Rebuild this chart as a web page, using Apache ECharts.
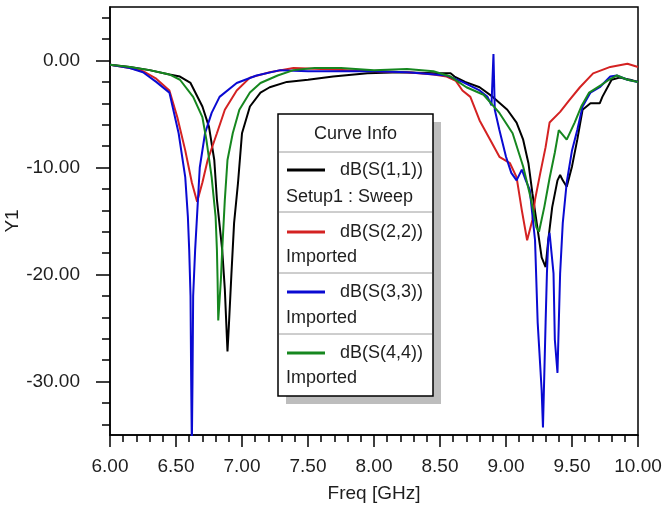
<!DOCTYPE html>
<html>
<head>
<meta charset="utf-8">
<script src="https://cdn.jsdelivr.net/npm/echarts@6/dist/echarts.min.js"></script>
<style>
html,body{margin:0;padding:0;background:#fff;}
#chart{width:662px;height:513px;}
</style>
</head>
<body>
<div id="chart"></div>
<script>
// ---- data ----
const xTickLabelsInfo = ['6.00','6.50','7.00','7.50','8.00','8.50','9.00','9.50','10.00'];
const yMajorLabels = ['0.00','-10.00','-20.00','-30.00'];

const seriesNames = ['dB(S(1,1))','dB(S(2,2))','dB(S(3,3))','dB(S(4,4))'];
const seriesSub = ['Setup1 : Sweep','Imported','Imported','Imported'];
const seriesColors = ['#000000','#d42222','#0a0ad2','#16871f'];

const s11Freq = [6.00,6.15,6.30,6.45,6.53,6.61,6.70,6.75,6.79,6.81,6.85,6.87,6.89,6.90,6.92,6.94,6.97,7.00,7.06,7.14,7.21,7.34,7.50,7.69,7.95,8.20,8.45,8.58,8.61,8.69,8.80,8.90,9.01,9.08,9.13,9.17,9.20,9.24,9.27,9.30,9.32,9.35,9.39,9.41,9.43,9.46,9.50,9.54,9.58,9.64,9.71,9.73,9.80,9.86,9.94,10.00];
const s11Db   = [-0.4,-0.6,-0.9,-1.3,-1.5,-2.1,-4.3,-6.2,-9.3,-13.0,-17.7,-21.4,-27.2,-24.9,-19.9,-15.2,-11.4,-6.8,-4.3,-3.0,-2.5,-2.0,-1.8,-1.5,-1.2,-1.1,-1.2,-1.2,-1.5,-2.0,-2.5,-3.4,-4.6,-5.8,-7.4,-9.6,-12.4,-15.8,-18.4,-19.3,-16.8,-13.7,-11.2,-10.7,-11.2,-11.8,-9.9,-7.4,-4.6,-4.0,-4.0,-3.4,-1.8,-1.6,-1.8,-2.0];

const s22Freq = [6.00,6.15,6.25,6.35,6.45,6.51,6.57,6.62,6.66,6.70,6.74,6.81,6.87,6.96,7.06,7.21,7.39,7.60,7.80,8.00,8.25,8.45,8.55,8.62,8.67,8.73,8.80,8.88,8.95,9.03,9.08,9.12,9.16,9.20,9.22,9.26,9.30,9.33,9.41,9.48,9.56,9.66,9.79,9.92,10.00];
const s22Db   = [-0.4,-0.7,-1.0,-1.7,-2.8,-5.3,-8.4,-11.4,-13.2,-11.4,-9.3,-6.8,-4.6,-2.8,-1.6,-1.1,-0.7,-0.8,-0.9,-1.0,-1.1,-1.3,-1.5,-1.9,-2.8,-3.4,-5.6,-7.4,-9.0,-9.6,-10.9,-14.0,-16.8,-14.9,-13.0,-10.5,-8.1,-5.8,-4.8,-3.7,-2.5,-1.2,-0.6,-0.3,-0.6];

const s33Freq = [6.00,6.15,6.25,6.35,6.45,6.52,6.57,6.59,6.60,6.61,6.615,6.62,6.625,6.63,6.645,6.68,6.72,6.77,6.83,6.96,7.11,7.29,7.50,7.75,8.00,8.25,8.35,8.55,8.67,8.80,8.86,8.89,8.905,8.915,8.95,9.00,9.04,9.08,9.12,9.15,9.18,9.22,9.24,9.27,9.28,9.30,9.31,9.32,9.33,9.36,9.37,9.39,9.40,9.41,9.43,9.46,9.50,9.54,9.58,9.64,9.71,9.79,9.84,9.92,10.00];
const s33Db   = [-0.4,-0.7,-1.1,-2.0,-3.0,-6.8,-10.9,-14.6,-17.7,-22.0,-30.0,-36.0,-30.0,-22.0,-17.7,-10.0,-6.8,-4.9,-3.4,-2.1,-1.4,-0.9,-1.0,-1.0,-1.0,-1.1,-1.2,-1.4,-2.0,-2.8,-3.4,-4.2,0.6,-4.6,-6.5,-9.0,-10.5,-11.2,-10.2,-11.2,-12.1,-16.8,-24.5,-30.8,-34.3,-24.5,-19.9,-16.8,-16.1,-19.9,-26.1,-29.2,-24.5,-19.9,-15.2,-11.4,-8.4,-6.5,-4.3,-3.0,-2.5,-1.5,-1.4,-1.8,-2.0];

const s44Freq = [6.00,6.15,6.30,6.45,6.53,6.63,6.70,6.73,6.77,6.80,6.81,6.815,6.82,6.84,6.85,6.87,6.89,6.93,6.98,7.06,7.14,7.27,7.39,7.55,7.75,8.00,8.25,8.45,8.58,8.70,8.83,8.95,9.05,9.13,9.19,9.23,9.25,9.29,9.33,9.37,9.40,9.46,9.52,9.57,9.63,9.72,9.78,9.84,9.92,10.00];
const s44Db   = [-0.4,-0.6,-0.9,-1.3,-1.8,-3.4,-5.3,-7.4,-10.9,-14.6,-17.7,-20.5,-24.3,-20.5,-17.7,-13.0,-9.3,-6.8,-4.6,-3.0,-2.1,-1.4,-0.9,-0.7,-0.7,-0.9,-0.8,-1.0,-1.5,-2.5,-3.2,-4.9,-6.8,-9.9,-13.0,-15.6,-16.0,-13.7,-11.0,-8.6,-6.5,-7.4,-5.8,-4.3,-3.0,-2.3,-1.8,-1.4,-1.8,-2.0];

// ---- build ----
const FONT = '"Liberation Sans", Arial, sans-serif';
const TXT = '#1e1e1e';
function zip(a, b) { return a.map((v, i) => [v, b[i]]); }
const allFreq = [s11Freq, s22Freq, s33Freq, s44Freq];
const allDb = [s11Db, s22Db, s33Db, s44Db];

// tick positions (every 1 dB) for the category helper axes
const yTickCats = [];
for (let v = -35; v <= 5; v++) yTickCats.push(String(v));

const chart = echarts.init(document.getElementById('chart'), null, {renderer: 'canvas'});

const series = seriesNames.map((n, i) => ({
  name: n,
  type: 'line',
  xAxisIndex: 0,
  yAxisIndex: 0,
  showSymbol: false,
  symbol: 'none',
  clip: true,
  lineStyle: {color: seriesColors[i], width: 2},
  itemStyle: {color: seriesColors[i]},
  data: zip(allFreq[i], allDb[i]),
  z: 2 + i
}));

// legend box ("Curve Info") drawn as graphic
const LB = {x: 278, y: 114, w: 155, h: 282};
const rowLineY = [170, 232, 292, 353];
const rowSubY = [197, 257, 318, 378];
const sepY = [152, 212, 273, 334];
const LFONT = '18px ' + FONT;
const graphics = [
  {type: 'rect', shape: {x: LB.x + 8, y: LB.y + 8, width: LB.w, height: LB.h}, style: {fill: '#bdbdbd'}, z: 100},
  {type: 'rect', shape: {x: LB.x, y: LB.y, width: LB.w, height: LB.h}, style: {fill: '#fff', stroke: '#000', lineWidth: 1.5}, z: 101},
  {type: 'text', style: {text: 'Curve Info', x: LB.x + LB.w / 2, y: 134, align: 'center', verticalAlign: 'middle', font: LFONT, fill: TXT}, z: 102}
];
sepY.forEach(y => graphics.push({type: 'line', shape: {x1: LB.x + 1, y1: y, x2: LB.x + LB.w - 1, y2: y}, style: {stroke: '#9c9c9c', lineWidth: 1}, z: 102}));
seriesNames.forEach((n, i) => {
  graphics.push({type: 'line', shape: {x1: 287, y1: rowLineY[i], x2: 325, y2: rowLineY[i]}, style: {stroke: seriesColors[i], lineWidth: 3}, z: 102});
  graphics.push({type: 'text', style: {text: n, x: 340, y: rowLineY[i], align: 'left', verticalAlign: 'middle', font: LFONT, fill: TXT}, z: 102});
  graphics.push({type: 'text', style: {text: seriesSub[i], x: 286, y: rowSubY[i], align: 'left', verticalAlign: 'middle', font: LFONT, fill: TXT}, z: 102});
});

const tickStyle = {color: '#000', width: 1.5};
const option = {
  animation: false,
  backgroundColor: '#fff',
  grid: {left: 110, right: 24, top: 7, bottom: 78, containLabel: false, outerBoundsMode: 'none',
         show: true, borderColor: '#000', borderWidth: 1.5, backgroundColor: 'transparent'},
  xAxis: [{
    type: 'value', min: 6, max: 10, interval: 0.5,
    name: 'Freq [GHz]', nameLocation: 'middle', nameGap: 49, nameMoveOverlap: false,
    nameTextStyle: {fontFamily: FONT, fontSize: 19, color: TXT},
    axisLine: {show: true, onZero: false, lineStyle: tickStyle},
    axisTick: {show: true, length: 12, inside: false, lineStyle: tickStyle},
    minorTick: {show: true, splitNumber: 5, length: 7, lineStyle: tickStyle},
    axisLabel: {margin: 22, fontFamily: FONT, fontSize: 19, color: TXT,
      formatter: v => { const s = v.toFixed(2); return xTickLabelsInfo.includes(s) ? s : ''; }},
    splitLine: {show: false}, minorSplitLine: {show: false}
  }],
  yAxis: [
    {
      type: 'value', min: -35, max: 5, interval: 5,
      name: 'Y1', nameLocation: 'middle', nameGap: 88, nameMoveOverlap: false,
      nameTextStyle: {fontFamily: FONT, fontSize: 19, color: TXT},
      axisLine: {show: true, onZero: false, lineStyle: tickStyle},
      axisTick: {show: false},
      axisLabel: {margin: 30, fontFamily: FONT, fontSize: 19, color: TXT,
        formatter: v => { const s = (v === 0 ? 0 : v).toFixed(2); return yMajorLabels.includes(s) ? s : ''; }},
      splitLine: {show: false}
    },
    {
      type: 'category', data: yTickCats, boundaryGap: false, position: 'left',
      axisLine: {show: false, onZero: false}, axisLabel: {show: false}, splitLine: {show: false},
      axisTick: {show: true, length: 8, lineStyle: tickStyle, interval: (i, v) => Number(v) % 2 === 0}
    },
    {
      type: 'category', data: yTickCats, boundaryGap: false, position: 'left',
      axisLine: {show: false, onZero: false}, axisLabel: {show: false}, splitLine: {show: false},
      axisTick: {show: true, length: 14, lineStyle: tickStyle, interval: (i, v) => Number(v) % 10 === 0}
    }
  ],
  series: series,
  graphic: graphics
};
chart.setOption(option);
</script>
</body>
</html>
